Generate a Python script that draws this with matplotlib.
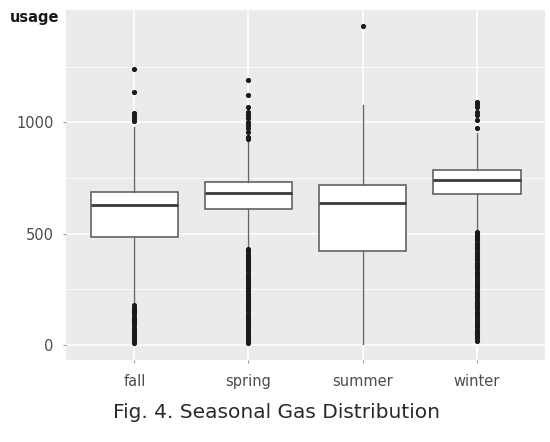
import matplotlib.pyplot as plt


SEASONS = ["fall", "spring", "summer", "winter"]

# box statistics
Q1 = [484, 609, 422, 677]
MEDIAN = [627, 684, 636, 741]
Q3 = [686, 733, 721, 786]
WHISKER_LOW = [182, 432, 3, 518]
WHISKER_HIGH = [980, 916, 1078, 952]

OUTLIERS = [
    [1239, 1137, 1040, 1033, 1018, 1007,
     178, 168, 158, 148, 138, 128, 118, 108, 98, 88, 78, 68, 58, 48, 38, 28, 18, 10],
    [1191, 1123, 1070, 1048, 1033, 1018, 1003, 988, 973, 958, 935, 924,
     431, 421, 411, 401, 391, 381, 371, 361, 351, 341, 331, 321, 311, 301, 291,
     281, 271, 261, 251, 241, 231, 221, 211, 201, 191, 181, 171, 161, 151, 141,
     131, 121, 111, 101, 91, 81, 71, 61, 51, 41, 31, 21, 11],
    [1432],
    [1093, 1082, 1070, 1048, 1033, 1010, 976,
     510, 500, 490, 480, 470, 460, 450, 440, 430, 420, 410, 400, 390, 380, 370,
     360, 350, 340, 330, 320, 310, 300, 290, 280, 270, 260, 250, 240, 230, 220,
     210, 200, 190, 180, 170, 160, 150, 140, 130, 120, 110, 100, 90, 80, 70, 60,
     50, 40, 30, 20],
]

Y_TICKS = [0, 500, 1000]
Y_MINOR = [250, 750, 1250]


def main():
    fig = plt.figure(figsize=(5.5, 4.42), dpi=100)
    ax = fig.add_axes([0.12, 0.1855, 0.871, 0.7915])

    stats = []
    for i, s in enumerate(SEASONS):
        stats.append({
            "label": s, "q1": Q1[i], "med": MEDIAN[i], "q3": Q3[i],
            "whislo": WHISKER_LOW[i], "whishi": WHISKER_HIGH[i],
            "fliers": OUTLIERS[i],
        })

    pos = list(range(1, len(SEASONS) + 1))
    ax.bxp(
        stats, positions=pos, widths=0.77, patch_artist=True, showcaps=False,
        boxprops=dict(facecolor="white", edgecolor="#555555", linewidth=1.1),
        medianprops=dict(color="#3a3a3a", linewidth=2.0),
        whiskerprops=dict(color="#666666", linewidth=1.0),
        flierprops=dict(marker="o", markerfacecolor="#1a1a1a",
                        markeredgecolor="#1a1a1a", markersize=2.7),
        zorder=3,
    )

    ax.set_facecolor("#EBEBEB")
    for sp in ax.spines.values():
        sp.set_visible(False)

    ax.set_xlim(0.4, 4.6)
    ax.set_ylim(-67, 1504)
    ax.set_yticks(Y_TICKS)
    ax.set_yticks(Y_MINOR, minor=True)
    ax.set_xticks(pos)
    ax.set_xticklabels(SEASONS)

    ax.grid(which="major", color="white", linewidth=1.2, zorder=0)
    ax.grid(which="minor", axis="y", color="white", linewidth=0.6, zorder=0)
    ax.set_axisbelow(True)

    ax.tick_params(axis="both", which="major", length=2, width=0.8,
                   color="#999999", labelcolor="#4d4d4d", labelsize=10.5)
    ax.tick_params(axis="y", which="minor", length=0)
    ax.tick_params(axis="y", pad=7)
    ax.tick_params(axis="x", pad=8)

    fig.text(0.018, 0.96, "usage", fontsize=10.5, fontweight="bold",
             color="#1a1a1a", ha="left", va="center")
    fig.text(0.502, 0.066, "Fig. 4. Seasonal Gas Distribution", fontsize=14.5,
             color="#2a2a2a", ha="center", va="center")

    fig.savefig("out.png", dpi=100)


if __name__ == "__main__":
    main()
